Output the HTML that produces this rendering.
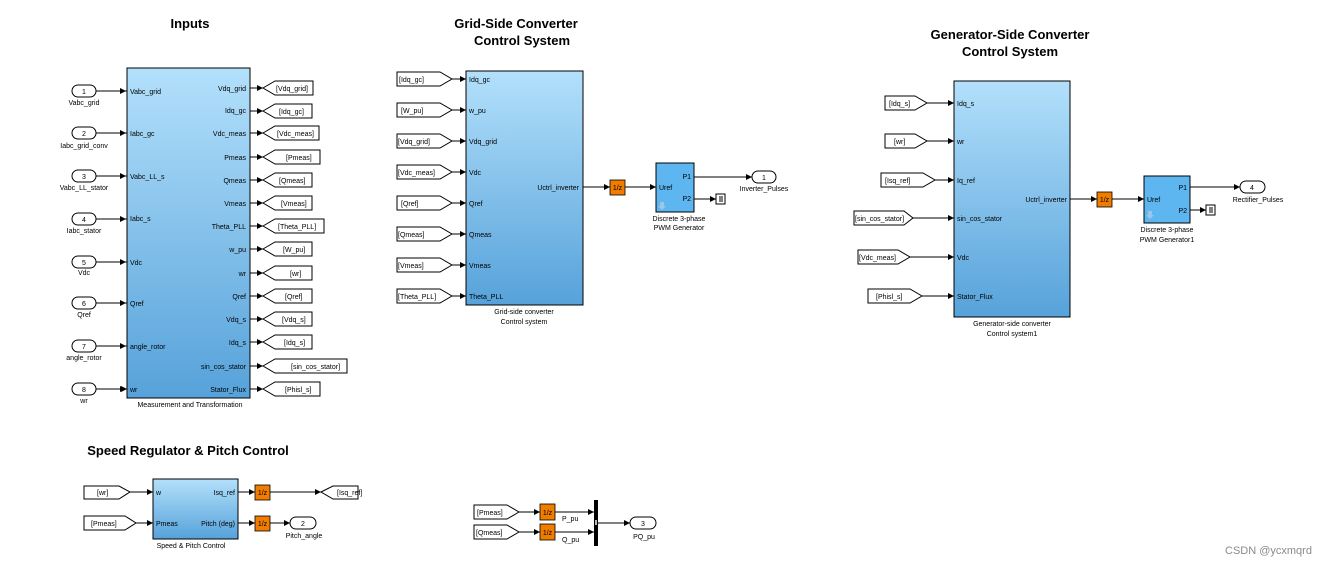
<!DOCTYPE html>
<html><head><meta charset="utf-8"><style>
html,body{margin:0;padding:0;background:#fff;}
svg{display:block;font-family:"Liberation Sans",Arial,sans-serif;}
.t{font-size:7px;fill:#000}
.h{font-size:13px;font-weight:bold;fill:#000}
.l{stroke:#000;stroke-width:1;fill:none}
.tag{fill:#fff;stroke:#000;stroke-width:1}
.d{fill:#f07d00;stroke:#000;stroke-width:.8}
</style></head><body>
<svg width="1332" height="567" viewBox="0 0 1332 567" xmlns="http://www.w3.org/2000/svg">
<defs>
<linearGradient id="g" x1="0" y1="0" x2="0" y2="1"><stop offset="0" stop-color="#b3e0fb"/><stop offset="1" stop-color="#56a2da"/></linearGradient>
<marker id="a" markerWidth="6" markerHeight="6" refX="6" refY="3" orient="auto" markerUnits="userSpaceOnUse"><path d="M0,0 L6,3 L0,6z" fill="#000"/></marker>
</defs>

<!-- Titles -->
<text class="h" x="190" y="28" text-anchor="middle">Inputs</text>
<text class="h" x="516" y="28" text-anchor="middle">Grid-Side Converter</text>
<text class="h" x="522" y="45" text-anchor="middle">Control System</text>
<text class="h" x="1010" y="39" text-anchor="middle">Generator-Side Converter</text>
<text class="h" x="1010" y="56" text-anchor="middle">Control System</text>
<text class="h" x="188" y="455" text-anchor="middle">Speed Regulator &amp; Pitch Control</text>

<!-- Inputs block -->
<rect x="127" y="68" width="123" height="330" fill="url(#g)" stroke="#000"/>
<text class="t" x="190" y="407" text-anchor="middle">Measurement and Transformation</text>
<g class="t">
<text x="130" y="94">Vabc_grid</text><text x="130" y="136">Iabc_gc</text><text x="130" y="179">Vabc_LL_s</text><text x="130" y="221">Iabc_s</text>
<text x="130" y="265">Vdc</text><text x="130" y="306">Qref</text><text x="130" y="349">angle_rotor</text><text x="130" y="392">wr</text>
</g>
<g>
<path class="l" d="M96,91H127M96,133H127M96,176H127M96,219H127M96,262H127M96,303H127M96,346H127M96,389H127" marker-end="url(#a)"/>
</g>
<path class="l" d="M96,91H126" marker-end="url(#a)"/>
<path class="l" d="M96,133H126" marker-end="url(#a)"/>
<path class="l" d="M96,176H126" marker-end="url(#a)"/>
<path class="l" d="M96,219H126" marker-end="url(#a)"/>
<path class="l" d="M96,262H126" marker-end="url(#a)"/>
<path class="l" d="M96,303H126" marker-end="url(#a)"/>
<path class="l" d="M96,346H126" marker-end="url(#a)"/>
<path class="l" d="M96,389H126" marker-end="url(#a)"/>
<g fill="#fff" stroke="#000">
<rect x="72" y="85" width="24" height="12" rx="6"/><rect x="72" y="127" width="24" height="12" rx="6"/><rect x="72" y="170" width="24" height="12" rx="6"/><rect x="72" y="213" width="24" height="12" rx="6"/>
<rect x="72" y="256" width="24" height="12" rx="6"/><rect x="72" y="297" width="24" height="12" rx="6"/><rect x="72" y="340" width="24" height="12" rx="6"/><rect x="72" y="383" width="24" height="12" rx="6"/>
</g>
<g class="t" text-anchor="middle">
<text x="84" y="94">1</text><text x="84" y="136">2</text><text x="84" y="179">3</text><text x="84" y="222">4</text><text x="84" y="265">5</text><text x="84" y="306">6</text><text x="84" y="349">7</text><text x="84" y="392">8</text>
<text x="84" y="105">Vabc_grid</text><text x="84" y="148">Iabc_grid_conv</text><text x="84" y="190">Vabc_LL_stator</text><text x="84" y="233">Iabc_stator</text>
<text x="84" y="275">Vdc</text><text x="84" y="317">Qref</text><text x="84" y="360">angle_rotor</text><text x="84" y="403">wr</text>
</g>
<g class="t" text-anchor="end">
<text x="246" y="91">Vdq_grid</text><text x="246" y="113">Idq_gc</text><text x="246" y="136">Vdc_meas</text><text x="246" y="160">Pmeas</text>
<text x="246" y="183">Qmeas</text><text x="246" y="206">Vmeas</text><text x="246" y="229">Theta_PLL</text><text x="246" y="252">w_pu</text>
<text x="246" y="276">wr</text><text x="246" y="299">Qref</text><text x="246" y="322">Vdq_s</text><text x="246" y="345">Idq_s</text>
<text x="246" y="369">sin_cos_stator</text><text x="246" y="392">Stator_Flux</text>
</g>
<g>
<path class="l" d="M250,88H263" marker-end="url(#a)"/><path class="l" d="M250,111H263" marker-end="url(#a)"/>
<path class="l" d="M250,133H263" marker-end="url(#a)"/><path class="l" d="M250,157H263" marker-end="url(#a)"/>
<path class="l" d="M250,180H263" marker-end="url(#a)"/><path class="l" d="M250,203H263" marker-end="url(#a)"/>
<path class="l" d="M250,226H263" marker-end="url(#a)"/><path class="l" d="M250,249H263" marker-end="url(#a)"/>
<path class="l" d="M250,273H263" marker-end="url(#a)"/><path class="l" d="M250,296H263" marker-end="url(#a)"/>
<path class="l" d="M250,319H263" marker-end="url(#a)"/><path class="l" d="M250,342H263" marker-end="url(#a)"/>
<path class="l" d="M250,366H263" marker-end="url(#a)"/><path class="l" d="M250,389H263" marker-end="url(#a)"/>
</g>
<g class="tag">
<polygon points="263,88 275,81 313,81 313,95 275,95"/>
<polygon points="263,111 275,104 312,104 312,118 275,118"/>
<polygon points="263,133 275,126 319,126 319,140 275,140"/>
<polygon points="263,157 275,150 320,150 320,164 275,164"/>
<polygon points="263,180 275,173 312,173 312,187 275,187"/>
<polygon points="263,203 275,196 312,196 312,210 275,210"/>
<polygon points="263,226 275,219 324,219 324,233 275,233"/>
<polygon points="263,249 275,242 312,242 312,256 275,256"/>
<polygon points="263,273 275,266 312,266 312,280 275,280"/>
<polygon points="263,296 275,289 312,289 312,303 275,303"/>
<polygon points="263,319 275,312 312,312 312,326 275,326"/>
<polygon points="263,342 275,335 312,335 312,349 275,349"/>
<polygon points="263,366 275,359 347,359 347,373 275,373"/>
<polygon points="263,389 275,382 320,382 320,396 275,396"/>
</g>
<g class="t">
<text x="276" y="91">[Vdq_grid]</text><text x="279" y="114">[Idq_gc]</text><text x="277" y="136">[Vdc_meas]</text><text x="286" y="160">[Pmeas]</text>
<text x="279" y="183">[Qmeas]</text><text x="281" y="206">[Vmeas]</text><text x="278" y="229">[Theta_PLL]</text><text x="283" y="252">[W_pu]</text>
<text x="290" y="276">[wr]</text><text x="285" y="299">[Qref]</text><text x="282" y="322">[Vdq_s]</text><text x="284" y="345">[Idq_s]</text>
<text x="291" y="369">[sin_cos_stator]</text><text x="285" y="392">[Phisl_s]</text>
</g>

<!-- Grid-side -->
<rect x="466" y="71" width="117" height="234" fill="url(#g)" stroke="#000"/>
<text class="t" x="524" y="314" text-anchor="middle">Grid-side converter</text>
<text class="t" x="524" y="324" text-anchor="middle">Control system</text>
<g class="tag">
<polygon points="397,72 440,72 452,79 440,86 397,86"/>
<polygon points="397,103 440,103 452,110 440,117 397,117"/>
<polygon points="397,134 440,134 452,141 440,148 397,148"/>
<polygon points="397,165 440,165 452,172 440,179 397,179"/>
<polygon points="397,196 440,196 452,203 440,210 397,210"/>
<polygon points="397,227 440,227 452,234 440,241 397,241"/>
<polygon points="397,258 440,258 452,265 440,272 397,272"/>
<polygon points="397,289 440,289 452,296 440,303 397,303"/>
</g>
<g class="t">
<text x="399" y="82">[Idq_gc]</text><text x="401" y="113">[W_pu]</text><text x="398" y="144">[Vdq_grid]</text><text x="398" y="175">[Vdc_meas]</text>
<text x="401" y="206">[Qref]</text><text x="398" y="237">[Qmeas]</text><text x="398" y="268">[Vmeas]</text><text x="398" y="299">[Theta_PLL]</text>
<text x="469" y="82">Idq_gc</text><text x="469" y="113">w_pu</text><text x="469" y="144">Vdq_grid</text><text x="469" y="175">Vdc</text>
<text x="469" y="206">Qref</text><text x="469" y="237">Qmeas</text><text x="469" y="268">Vmeas</text><text x="469" y="299">Theta_PLL</text>
<text x="579" y="190" text-anchor="end">Uctrl_inverter</text>
</g>
<path class="l" d="M452,79H466" marker-end="url(#a)"/><path class="l" d="M452,110H466" marker-end="url(#a)"/>
<path class="l" d="M452,141H466" marker-end="url(#a)"/><path class="l" d="M452,172H466" marker-end="url(#a)"/>
<path class="l" d="M452,203H466" marker-end="url(#a)"/><path class="l" d="M452,234H466" marker-end="url(#a)"/>
<path class="l" d="M452,265H466" marker-end="url(#a)"/><path class="l" d="M452,296H466" marker-end="url(#a)"/>
<path class="l" d="M583,187H610" marker-end="url(#a)"/>
<rect class="d" x="610" y="180" width="15" height="15"/><text class="t" x="617.5" y="190" text-anchor="middle">1/z</text>
<path class="l" d="M625,187H656" marker-end="url(#a)"/>
<rect x="656" y="163" width="38" height="49" fill="#5db6f0" stroke="#000"/>
<text class="t" x="659" y="190">Uref</text><text class="t" x="691" y="179" text-anchor="end">P1</text><text class="t" x="691" y="201" text-anchor="end">P2</text>
<path d="M660,202h4v4h2l-4,4l-4,-4h2z" fill="#9cc6e6"/>
<text class="t" x="679" y="221" text-anchor="middle">Discrete 3-phase</text>
<text class="t" x="679" y="230" text-anchor="middle">PWM Generator</text>
<path class="l" d="M694,177H752" marker-end="url(#a)"/>
<rect x="752" y="171" width="24" height="12" rx="6" fill="#fff" stroke="#000"/>
<text class="t" x="764" y="180" text-anchor="middle">1</text>
<text class="t" x="764" y="191" text-anchor="middle">Inverter_Pulses</text>
<path class="l" d="M694,199H716" marker-end="url(#a)"/>
<rect x="716" y="194" width="9" height="10" fill="#fff" stroke="#000"/>
<path class="l" d="M719,197h4M719,199h4M719,201h4" stroke-width=".6"/>

<!-- Generator-side -->
<rect x="954" y="81" width="116" height="236" fill="url(#g)" stroke="#000"/>
<text class="t" x="1012" y="326" text-anchor="middle">Generator-side converter</text>
<text class="t" x="1012" y="336" text-anchor="middle">Control system1</text>
<g class="tag">
<polygon points="885,96 915,96 927,103 915,110 885,110"/>
<polygon points="885,134 915,134 927,141 915,148 885,148"/>
<polygon points="881,173 923,173 935,180 923,187 881,187"/>
<polygon points="854,211 904,211 913,218 904,225 854,225"/>
<polygon points="858,250 898,250 910,257 898,264 858,264"/>
<polygon points="868,289 910,289 922,296 910,303 868,303"/>
</g>
<g class="t">
<text x="889" y="106">[Idq_s]</text><text x="894" y="144">[wr]</text><text x="885" y="183">[Isq_ref]</text><text x="855" y="221">[sin_cos_stator]</text>
<text x="859" y="260">[Vdc_meas]</text><text x="876" y="299">[Phisl_s]</text>
<text x="957" y="106">Idq_s</text><text x="957" y="144">wr</text><text x="957" y="183">Iq_ref</text><text x="957" y="221">sin_cos_stator</text>
<text x="957" y="260">Vdc</text><text x="957" y="299">Stator_Flux</text>
<text x="1067" y="202" text-anchor="end">Uctrl_inverter</text>
</g>
<path class="l" d="M927,103H954" marker-end="url(#a)"/><path class="l" d="M927,141H954" marker-end="url(#a)"/>
<path class="l" d="M935,180H954" marker-end="url(#a)"/><path class="l" d="M913,218H954" marker-end="url(#a)"/>
<path class="l" d="M910,257H954" marker-end="url(#a)"/><path class="l" d="M922,296H954" marker-end="url(#a)"/>
<path class="l" d="M1070,199H1097" marker-end="url(#a)"/>
<rect class="d" x="1097" y="192" width="15" height="15"/><text class="t" x="1104.5" y="202" text-anchor="middle">1/z</text>
<path class="l" d="M1112,199H1144" marker-end="url(#a)"/>
<rect x="1144" y="176" width="46" height="47" fill="#5db6f0" stroke="#000"/>
<text class="t" x="1147" y="202">Uref</text><text class="t" x="1187" y="190" text-anchor="end">P1</text><text class="t" x="1187" y="213" text-anchor="end">P2</text>
<path d="M1148,211h4v4h2l-4,4l-4,-4h2z" fill="#9cc6e6"/>
<text class="t" x="1167" y="232" text-anchor="middle">Discrete 3-phase</text>
<text class="t" x="1167" y="242" text-anchor="middle">PWM Generator1</text>
<path class="l" d="M1190,187H1240" marker-end="url(#a)"/>
<rect x="1240" y="181" width="25" height="12" rx="6" fill="#fff" stroke="#000"/>
<text class="t" x="1252" y="190" text-anchor="middle">4</text>
<text class="t" x="1258" y="202" text-anchor="middle">Rectifier_Pulses</text>
<path class="l" d="M1190,210H1206" marker-end="url(#a)"/>
<rect x="1206" y="205" width="9" height="10" fill="#fff" stroke="#000"/>
<path class="l" d="M1209,208h4M1209,210h4M1209,212h4" stroke-width=".6"/>

<!-- Speed & pitch -->
<rect x="153" y="479" width="85" height="60" fill="url(#g)" stroke="#000"/>
<text class="t" x="191" y="548" text-anchor="middle">Speed &amp; Pitch Control</text>
<g class="tag">
<polygon points="84,486 119,486 130,492 119,499 84,499"/>
<polygon points="84,516 125,516 136,523 125,530 84,530"/>
<polygon points="321,492 333,486 358,486 358,499 333,499"/>
</g>
<g class="t">
<text x="97" y="495">[wr]</text><text x="91" y="526">[Pmeas]</text><text x="337" y="495">[Isq_ref]</text>
<text x="156" y="495">w</text><text x="156" y="526">Pmeas</text>
<text x="235" y="495" text-anchor="end">Isq_ref</text><text x="235" y="526" text-anchor="end">Pitch (deg)</text>
</g>
<path class="l" d="M130,492H153" marker-end="url(#a)"/><path class="l" d="M136,523H153" marker-end="url(#a)"/>
<path class="l" d="M238,492H255" marker-end="url(#a)"/><path class="l" d="M238,523H255" marker-end="url(#a)"/>
<rect class="d" x="255" y="485" width="15" height="15"/><text class="t" x="262.5" y="495" text-anchor="middle">1/z</text>
<rect class="d" x="255" y="516" width="15" height="15"/><text class="t" x="262.5" y="526" text-anchor="middle">1/z</text>
<path class="l" d="M270,492H321" marker-end="url(#a)"/><path class="l" d="M270,523H290" marker-end="url(#a)"/>
<rect x="290" y="517" width="26" height="12" rx="6" fill="#fff" stroke="#000"/>
<text class="t" x="303" y="526" text-anchor="middle">2</text>
<text class="t" x="304" y="538" text-anchor="middle">Pitch_angle</text>

<!-- PQ -->
<g class="tag">
<polygon points="474,505 507,505 519,512 507,519 474,519"/>
<polygon points="474,525 507,525 519,532 507,539 474,539"/>
</g>
<text class="t" x="477" y="515">[Pmeas]</text><text class="t" x="476" y="535">[Qmeas]</text>
<path class="l" d="M519,512H540" marker-end="url(#a)"/><path class="l" d="M519,532H540" marker-end="url(#a)"/>
<rect class="d" x="540" y="504" width="15" height="16"/><text class="t" x="547.5" y="515" text-anchor="middle">1/z</text>
<rect class="d" x="540" y="524" width="15" height="16"/><text class="t" x="547.5" y="535" text-anchor="middle">1/z</text>
<path class="l" d="M555,512H594" marker-end="url(#a)"/><path class="l" d="M555,532H594" marker-end="url(#a)"/>
<text class="t" x="562" y="521">P_pu</text><text class="t" x="562" y="542">Q_pu</text>
<rect x="594" y="500" width="4" height="46" fill="#000"/>
<rect x="595" y="520" width="2" height="5" fill="#bbb"/>
<path class="l" d="M598,523H630" marker-end="url(#a)"/>
<rect x="630" y="517" width="26" height="12" rx="6" fill="#fff" stroke="#000"/>
<text class="t" x="643" y="526" text-anchor="middle">3</text>
<text class="t" x="644" y="539" text-anchor="middle">PQ_pu</text>

<text x="1225" y="554" font-size="11" fill="#8a8a8a">CSDN @ycxmqrd</text>
</svg>
</body></html>
